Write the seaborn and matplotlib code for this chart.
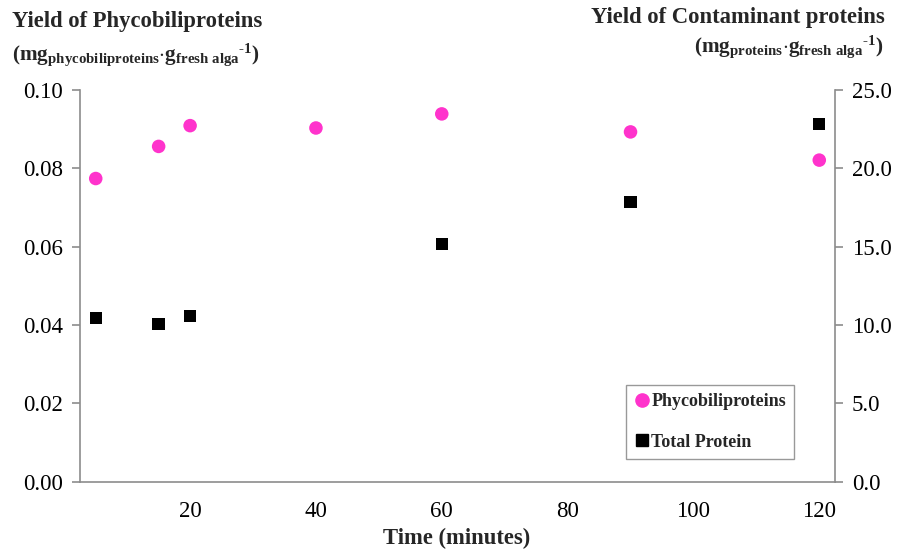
import matplotlib
matplotlib.use("Agg")
import matplotlib.pyplot as plt
import seaborn as sns
import pandas as pd
from matplotlib.lines import Line2D

# Data
time_min = [5, 15, 20, 40, 60, 90, 120]
phyco = [0.0774, 0.0856, 0.0909, 0.0903, 0.0939, 0.0893, 0.0821]
time_tp = [5, 15, 20, 60, 90, 120]
total_protein = [10.43, 10.06, 10.57, 15.17, 17.86, 22.82]
x_ticks = [20, 40, 60, 80, 100, 120]
left_ticks = [0.00, 0.02, 0.04, 0.06, 0.08, 0.10]
right_ticks = [0.0, 5.0, 10.0, 15.0, 20.0, 25.0]

sns.set_theme(style="white")
plt.rcParams['font.family'] = ['Liberation Serif', 'DejaVu Serif']
plt.rcParams['mathtext.fontset'] = 'custom'
plt.rcParams['mathtext.rm'] = 'Liberation Serif:bold'
plt.rcParams['mathtext.bf'] = 'Liberation Serif:bold'
plt.rcParams['mathtext.it'] = 'Liberation Serif:bold'

pink = '#FF33CC'
spine_c = '#8c8c8c'

fig = plt.figure(figsize=(8.99, 5.56), dpi=100)
ax = fig.add_axes([80/899, 1-481.7/556, (835-80)/899, (481.7-90)/556])
ax2 = ax.twinx()

df1 = pd.DataFrame({'t': time_min, 'y': phyco})
df2 = pd.DataFrame({'t': time_tp, 'y': total_protein})
sns.scatterplot(data=df1, x='t', y='y', ax=ax, color=pink, marker='o', s=95,
                edgecolor='none', legend=False, zorder=3)
sns.scatterplot(data=df2, x='t', y='y', ax=ax2, color='black', marker='s', s=80,
                edgecolor='none', legend=False, zorder=3)

ax.set_xlim(2.5, 122.5)
ax.set_ylim(0, 0.10)
ax2.set_ylim(0, 25)
ax.set_xticks(x_ticks)
ax.set_xticklabels([str(v) for v in x_ticks])
ax.set_yticks(left_ticks)
ax.set_yticklabels([f"{v:.2f}" for v in left_ticks])
ax2.set_yticks(right_ticks)
ax2.set_yticklabels([f"{v:.1f}" for v in right_ticks])

for a in (ax, ax2):
    a.set_xlabel('')
    a.set_ylabel('')
    for s in a.spines.values():
        s.set_color(spine_c)
        s.set_linewidth(1.2)
    a.spines['top'].set_visible(False)
    a.grid(False)
ax.spines['right'].set_visible(False)
ax2.spines['left'].set_visible(False)
ax2.spines['bottom'].set_visible(False)

ax.tick_params(axis='y', which='both', direction='out', length=6, width=1.2, color=spine_c,
               labelsize=16.5, labelcolor='black', pad=6, left=True)
ax.tick_params(axis='x', length=0, labelsize=16.5, labelcolor='black', pad=14, bottom=True)
ax2.tick_params(axis='y', direction='out', length=6, width=1.2, color=spine_c,
                labelsize=16.5, labelcolor='black', pad=6, right=True)

fig.text(457/899, 1-538/556, 'Time (minutes)', ha='center', va='center',
         fontsize=16.3, fontweight='bold')

fig.text(12/899, 1-22/556, 'Yield of Phycobiliproteins', ha='left', va='center',
         fontsize=16.3, fontweight='bold')
fig.text(12/899, 1-55/556,
         r'$\mathrm{(mg_{phycobiliproteins}{\cdot}g_{fresh\ alga}{}^{\text{-1}})}$',
         ha='left', va='center', fontsize=15.3)
fig.text(885/899, 1-17/556, 'Yield of Contaminant proteins', ha='right', va='center',
         fontsize=16.3, fontweight='bold')
fig.text(883/899, 1-47/556,
         r'$\mathrm{(mg_{proteins}{\cdot}g_{fresh\ alga}{}^{\text{-1}})}$',
         ha='right', va='center', fontsize=15.3)

handles = [Line2D([], [], marker='o', color=pink, linestyle='none', markersize=9.5),
           Line2D([], [], marker='s', color='black', linestyle='none', markersize=8.5)]
leg = fig.legend(handles, ['Phycobiliproteins', 'Total Protein'],
                 loc='upper left', bbox_to_anchor=(626/899, 1-385/556),
                 prop={'family': 'Liberation Serif', 'weight': 'bold', 'size': 13},
                 frameon=True, fancybox=False, handletextpad=0.05, handlelength=0.9,
                 labelspacing=1.3, borderpad=0.45, borderaxespad=0)
leg.get_frame().set_edgecolor('#808080')
leg.get_frame().set_linewidth(1.0)

fig.savefig('out.png', dpi=100, facecolor='white')
